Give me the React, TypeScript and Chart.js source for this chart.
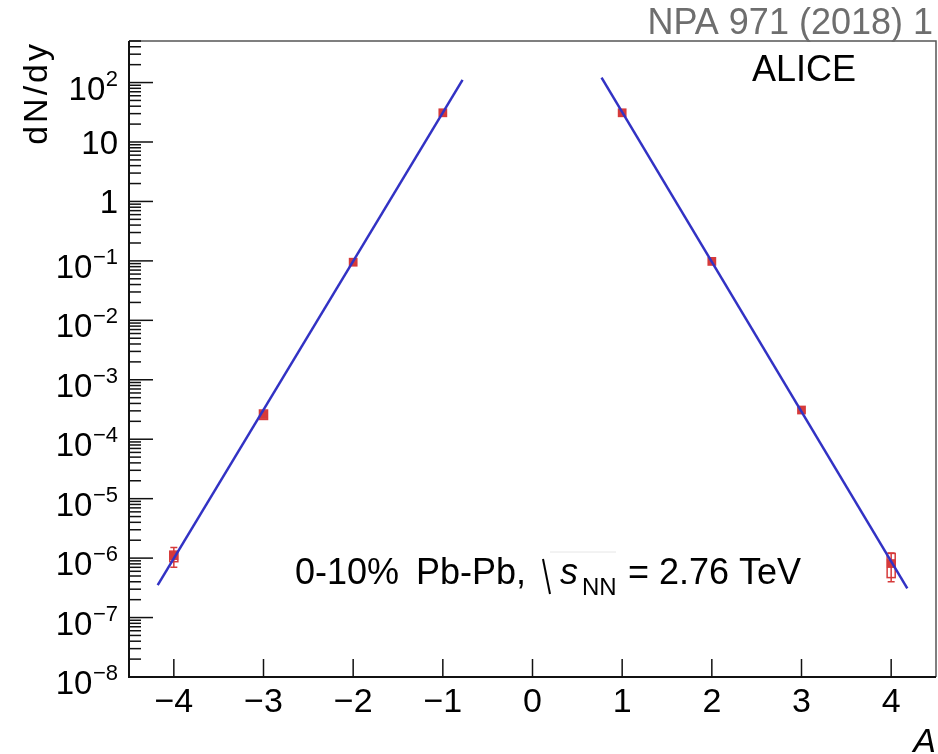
import React, { useEffect, useRef } from 'react';
import { Chart, registerables } from 'chart.js';

Chart.register(...registerables);

// ---- data ----
const massNumbers = [-4, -3, -2, -1, 1, 2, 3, 4];
const yieldValues = [1.1e-6, 2.6e-4, 0.095, 31, 31, 0.098, 3.1e-4, 0.81e-6];
const statLow = [0.7e-6, null, null, null, null, null, null, 0.4e-6];
const statHigh = [1.51e-6, null, null, null, null, null, null, 1.22e-6];
const sysLow = [0.87e-6, 2.15e-4, null, null, null, null, null, 0.47e-6];
const sysHigh = [1.31e-6, 3.1e-4, null, null, null, null, null, 1.2e-6];

const fitLeftA = [-4.18, -0.78];
const fitLeftY = [3.5e-7, 111];
const fitRightA = [0.77, 4.18];
const fitRightY = [121, 3.1e-7];

const xTickValues = [-4, -3, -2, -1, 0, 1, 2, 3, 4];
const yDecadeExponents = [-8, -7, -6, -5, -4, -3, -2, -1, 0, 1, 2];
const yMinorMultipliers = [2, 3, 4, 5, 6, 7, 8, 9];

const X_MIN = -4.5;
const X_MAX = 4.5;
const Y_MIN = 1e-8;
const Y_MAX = 500;

const FONT = '"Liberation Sans", Arial, Helvetica, sans-serif';
const RED = '#d63a3a';
const BLUE = '#3232c4';

const rootStyle = {
  id: 'rootStyle',
  beforeDatasetsDraw(chart: any) {
    const ctx = chart.ctx as CanvasRenderingContext2D;
    const xs = chart.scales.x;
    const ys = chart.scales.y;
    ctx.save();
    ctx.strokeStyle = RED;
    ctx.lineWidth = 1.5;
    massNumbers.forEach((a, i) => {
      const px = xs.getPixelForValue(a);
      const sl = sysLow[i];
      const sh = sysHigh[i];
      if (sl != null && sh != null) {
        const x0 = xs.getPixelForValue(a - 0.045);
        const x1 = xs.getPixelForValue(a + 0.045);
        const y0 = ys.getPixelForValue(sh);
        const y1 = ys.getPixelForValue(sl);
        ctx.strokeRect(x0, y0, x1 - x0, y1 - y0);
      }
      const lo = statLow[i];
      const hi = statHigh[i];
      if (lo != null && hi != null) {
        const y0 = ys.getPixelForValue(hi);
        const y1 = ys.getPixelForValue(lo);
        ctx.beginPath();
        ctx.moveTo(px, y0);
        ctx.lineTo(px, y1);
        ctx.moveTo(px - 3.5, y0);
        ctx.lineTo(px + 3.5, y0);
        ctx.moveTo(px - 3.5, y1);
        ctx.lineTo(px + 3.5, y1);
        ctx.stroke();
      }
    });
    ctx.restore();
  },
  afterDraw(chart: any) {
    const ctx = chart.ctx as CanvasRenderingContext2D;
    const xs = chart.scales.x;
    const ys = chart.scales.y;
    const { left, right, top, bottom } = chart.chartArea;
    ctx.save();

    // frame
    ctx.strokeStyle = '#555';
    ctx.lineWidth = 1.5;
    ctx.beginPath();
    ctx.moveTo(left, top);
    ctx.lineTo(right, top);
    ctx.lineTo(right, bottom);
    ctx.stroke();
    ctx.strokeStyle = '#111';
    ctx.lineWidth = 2;
    ctx.beginPath();
    ctx.moveTo(left, top);
    ctx.lineTo(left, bottom);
    ctx.lineTo(right, bottom);
    ctx.stroke();

    // y ticks
    ctx.lineWidth = 1.5;
    ctx.strokeStyle = '#111';
    yDecadeExponents.forEach((e) => {
      const v = Math.pow(10, e);
      const py = ys.getPixelForValue(v);
      ctx.beginPath();
      ctx.moveTo(left, py);
      ctx.lineTo(left + 24, py);
      ctx.stroke();
      yMinorMultipliers.forEach((m) => {
        const mv = m * v;
        if (mv > Y_MAX) return;
        const my = ys.getPixelForValue(mv);
        ctx.beginPath();
        ctx.moveTo(left, my);
        ctx.lineTo(left + 12, my);
        ctx.stroke();
      });
    });

    // x ticks
    xTickValues.forEach((a) => {
      const px = xs.getPixelForValue(a);
      ctx.beginPath();
      ctx.moveTo(px, bottom);
      ctx.lineTo(px, bottom - 18);
      ctx.stroke();
    });

    // y tick labels
    ctx.fillStyle = '#000';
    ctx.textBaseline = 'alphabetic';
    const labRight = 118;
    yDecadeExponents.forEach((e) => {
      const py = ys.getPixelForValue(Math.pow(10, e));
      if (e === 0 || e === 1) {
        ctx.font = `33px ${FONT}`;
        ctx.textAlign = 'right';
        ctx.fillText(e === 0 ? '1' : '10', labRight, py + 12);
      } else {
        const sup = e < 0 ? '\u2212' + String(-e) : String(e);
        ctx.font = `22px ${FONT}`;
        const ws = ctx.measureText(sup).width;
        ctx.textAlign = 'left';
        ctx.fillText(sup, labRight - ws, py + 3);
        ctx.font = `33px ${FONT}`;
        ctx.textAlign = 'right';
        ctx.fillText('10', labRight - ws - 0.5, py + 17);
      }
    });

    // x tick labels
    ctx.font = `34px ${FONT}`;
    ctx.textAlign = 'center';
    xTickValues.forEach((a) => {
      const px = xs.getPixelForValue(a);
      const t = a < 0 ? '\u2212' + String(-a) : String(a);
      ctx.fillText(t, px, 712);
    });

    // axis titles
    ctx.save();
    ctx.translate(47, top);
    ctx.rotate(-Math.PI / 2);
    ctx.font = `34px ${FONT}`;
    (ctx as any).letterSpacing = '3px';
    ctx.textAlign = 'right';
    ctx.fillText('dN/dy', 0, 0);
    ctx.restore();
    (ctx as any).letterSpacing = '0px';

    ctx.font = `italic 34px ${FONT}`;
    ctx.textAlign = 'right';
    ctx.fillText('A', 936, 752);

    // labels
    ctx.font = `36px ${FONT}`;
    ctx.textAlign = 'right';
    ctx.fillStyle = '#6e6e6e';
    ctx.fillText('NPA 971 (2018) 1', 933, 34);

    ctx.fillStyle = '#000';
    ctx.textAlign = 'left';
    ctx.fillText('ALICE', 752, 81);

    ctx.font = `36px ${FONT}`;
    ctx.fillText('0-10%', 295, 584);
    ctx.fillText('Pb-Pb,', 416, 584);
    // sqrt sign
    ctx.strokeStyle = '#000';
    ctx.lineWidth = 2;
    ctx.beginPath();
    ctx.moveTo(543, 559);
    ctx.lineTo(550, 594);
    ctx.stroke();
    ctx.strokeStyle = '#e6e6e6';
    ctx.lineWidth = 1;
    ctx.beginPath();
    ctx.moveTo(550, 552);
    ctx.lineTo(616, 552);
    ctx.stroke();
    ctx.font = `italic 36px ${FONT}`;
    ctx.fillText('s', 560, 584);
    ctx.font = `24px ${FONT}`;
    ctx.fillText('NN', 582, 595);
    ctx.font = `36px ${FONT}`;
    ctx.fillText('= 2.76 TeV', 628, 584);

    ctx.restore();
  },
};

export default function App() {
  const ref = useRef<HTMLCanvasElement>(null);
  useEffect(() => {
    document.body.style.margin = '0';
    const canvas = ref.current!;
    const chart = new Chart(canvas, {
      type: 'scatter',
      data: {
        datasets: [
          {
            type: 'line',
            data: fitLeftA.map((a, i) => ({ x: a, y: fitLeftY[i] })),
            borderColor: BLUE,
            borderWidth: 2.5,
            pointRadius: 0,
            showLine: true,
            fill: false,
            order: 0,
          } as any,
          {
            type: 'line',
            data: fitRightA.map((a, i) => ({ x: a, y: fitRightY[i] })),
            borderColor: BLUE,
            borderWidth: 2.5,
            pointRadius: 0,
            showLine: true,
            fill: false,
            order: 0,
          } as any,
          {
            type: 'scatter',
            data: massNumbers.map((a, i) => ({ x: a, y: yieldValues[i] })),
            backgroundColor: RED,
            borderColor: RED,
            borderWidth: 0,
            pointStyle: 'rect',
            pointRadius: 6.2,
            order: 1,
          } as any,
        ],
      },
      options: {
        responsive: false,
        animation: false,
        devicePixelRatio: 1,
        events: [],
        layout: { autoPadding: false, padding: { left: 129, top: 41, right: 2, bottom: 77 } },
        scales: {
          x: { type: 'linear', min: X_MIN, max: X_MAX, display: false },
          y: { type: 'logarithmic', min: Y_MIN, max: Y_MAX, display: false },
        },
        plugins: {
          legend: { display: false },
          tooltip: { enabled: false },
        },
      } as any,
      plugins: [rootStyle],
    });
    return () => chart.destroy();
  }, []);
  return (
    <div style={{ width: 938, height: 754, background: '#fff' }}>
      <canvas ref={ref} width={938} height={754} style={{ display: 'block' }} />
    </div>
  );
}
